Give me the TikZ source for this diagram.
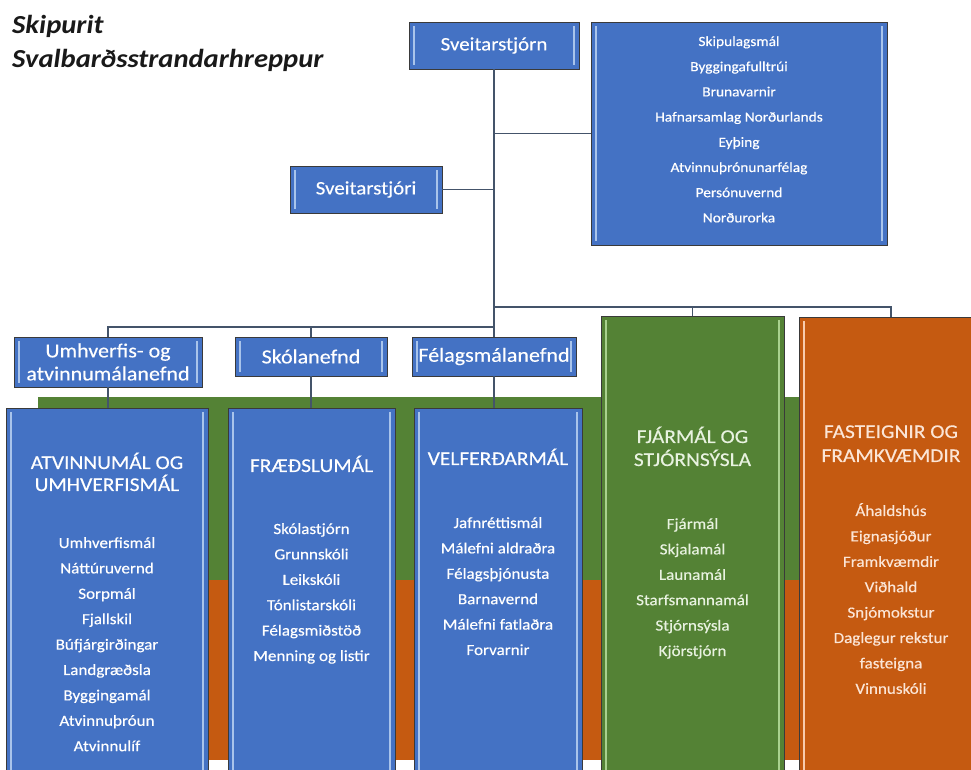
\documentclass[tikz,border=0pt]{standalone}
\usepackage{fontspec}
\setmainfont{Carlito}[FakeStretch=1.1]
\newfontfamily\boxfont{Carlito}[FakeStretch=1.1, FakeBold=0.35]
\usetikzlibrary{calc}
\definecolor{bfill}{HTML}{4472C4}
\definecolor{gfill}{HTML}{548235}
\definecolor{ofill}{HTML}{C55A11}
\definecolor{edgec}{HTML}{3A3A3A}
\definecolor{linec}{HTML}{44546A}
\definecolor{bhl}{HTML}{A9C4EB}
\definecolor{ghl}{HTML}{A9D18E}
\definecolor{ohl}{HTML}{F8CBAD}
\definecolor{gtext}{HTML}{E8F2E0}
\definecolor{otext}{HTML}{FBE5D6}
\tikzset{
  box/.style={draw=edgec, line width=0.9pt, inner sep=0pt, outer sep=0pt, anchor=north west},
  bbox/.style={box, fill=bfill},
  gbox/.style={box, fill=gfill},
  obox/.style={box, fill=ofill},
  conn/.style={draw=linec, line width=1.1pt},
  toptxt/.style={text=white, font=\boxfont\fontsize{19}{23}\selectfont},
  comtxt/.style={text=white, font=\boxfont\fontsize{20}{23}\selectfont, align=center},
  listtxt/.style={text=white, font=\boxfont\fontsize{14}{16}\selectfont, inner sep=0pt, text height=1.6ex, text depth=0.35ex},
  headtxt/.style={font=\boxfont\fontsize{19.5}{22}\selectfont, inner sep=0pt, text height=1.6ex, text depth=0.35ex},
  itmtxt/.style={font=\boxfont\fontsize{15.5}{18}\selectfont, inner sep=0pt, text height=1.6ex, text depth=0.35ex},
  titletxt/.style={font=\fontsize{26}{30}\selectfont\bfseries\itshape, text=black!90, inner sep=0pt, anchor=base west},
}
\newcommand\hilite[2]{%
  \draw[#2, line width=1.6pt] ($(#1.north west)+(5,4)$) -- ($(#1.south west)+(5,-4)$);
  \draw[#2, line width=1.6pt] ($(#1.north east)+(-5,4)$) -- ($(#1.south east)+(-5,-4)$);}
\newcommand\hiliteleft[2]{%
  \draw[#2, line width=1.6pt] ($(#1.north west)+(5,4)$) -- ($(#1.south west)+(5,-4)$);}
\begin{document}
\begin{tikzpicture}[x=1pt,y=-1pt]
\useasboundingbox (0,0) rectangle (971,769);
\fill[white] (0,0) rectangle (971,769);
\begin{scope}
\clip (0,0) rectangle (971,769);

% title
\node[titletxt] (t1) at (12,33) {Skipurit};
\node[titletxt] (t2) at (12,67) {Svalbarðsstrandarhreppur};

% background bands
\fill[gfill] (38,397) rectangle (800,580);
\fill[ofill] (38,580) rectangle (800,760);

% top boxes
\node[bbox, minimum width=170pt, minimum height=47pt, toptxt] (top) at (409,22) {Sveitarstjórn};
\node[bbox, minimum width=296pt, minimum height=223pt] (rl) at (591,22) {};
\node[bbox, minimum width=152pt, minimum height=47pt, toptxt] (sjori) at (290,166) {Sveitarstjóri};
\hilite{top}{bhl}
\hilite{rl}{bhl}
\hilite{sjori}{bhl}
\foreach \t [count=\i from 0] in {Skipulagsmál,Byggingafulltrúi,Brunavarnir,Hafnarsamlag Norðurlands,Eyþing,Atvinnuþrónunarfélag,Persónuvernd,Norðurorka}
  \node[listtxt] (rl\i) at ({739},{43+25.2*\i}) {\t};

% committees
\node[bbox, minimum width=188pt, minimum height=50pt, comtxt] (umh) at (14,337) {Umhverfis- og\\atvinnumálanefnd};
\node[bbox, minimum width=152pt, minimum height=39pt, comtxt] (skol) at (235,337) {Skólanefnd};
\node[bbox, minimum width=164pt, minimum height=39pt, comtxt] (fel) at (412,337) {Félagsmálanefnd};
\hilite{umh}{bhl}
\hilite{skol}{bhl}
\hilite{fel}{bhl}

% big boxes
\node[bbox, minimum width=202pt, minimum height=380pt] (b1) at (6,408) {};
\node[bbox, minimum width=167pt, minimum height=380pt] (b2) at (228,408) {};
\node[bbox, minimum width=168pt, minimum height=380pt] (b3) at (414,408) {};
\node[gbox, minimum width=183pt, minimum height=470pt] (fin) at (601,316) {};
\node[obox, minimum width=184pt, minimum height=470pt] (fast) at (799,317) {};
\hilite{b1}{bhl}
\hilite{b2}{bhl}
\hilite{b3}{bhl}
\hilite{fin}{ghl}
\hiliteleft{fast}{ohl}

% connectors
\coordinate (jr) at (494,307);
\coordinate (jl) at (494,327);
\coordinate (jo) at (891,307);
\draw[conn] (top.south) -- (fel.north);
\draw[conn] (rl.west) -- (rl.west -| top.south);
\draw[conn] (sjori.east) -- (sjori.east -| top.south);
\draw[conn] (jr) -| (fin.north);
\draw[conn] (jr) -- (jo) -- (jo |- fast.north);
\draw[conn] (jl) -| (umh.north);
\draw[conn] (jl) -| (skol.north);
\draw[conn] (umh.south) -- (umh.south |- b1.north);
\draw[conn] (skol.south) -- (skol.south |- b2.north);
\draw[conn] (fel.south) -- (fel.south |- b3.north);

% column texts
\node[headtxt, text=white] (h1a) at (107,466) {ATVINNUMÁL OG};
\node[headtxt, text=white] (h1b) at (107,488) {UMHVERFISMÁL};
\foreach \t [count=\i from 0] in {Umhverfismál,Náttúruvernd,Sorpmál,Fjallskil,Búfjárgirðingar,Landgræðsla,Byggingamál,Atvinnuþróun,Atvinnulíf}
  \node[itmtxt, text=white] (c1\i) at ({107},{545+25.4*\i}) {\t};

\node[headtxt, text=white] (h2) at (311.5,469) {FRÆÐSLUMÁL};
\foreach \t [count=\i from 0] in {Skólastjórn,Grunnskóli,Leikskóli,Tónlistarskóli,Félagsmiðstöð,Menning og listir}
  \node[itmtxt, text=white] (c2\i) at ({311.5},{531+25.4*\i}) {\t};

\node[headtxt, text=white] (h3) at (498,462) {VELFERÐARMÁL};
\foreach \t [count=\i from 0] in {Jafnréttismál,Málefni aldraðra,Félagsþjónusta,Barnavernd,Málefni fatlaðra,Forvarnir}
  \node[itmtxt, text=white] (c3\i) at ({498},{525+25.4*\i}) {\t};

\node[headtxt, text=gtext] (h4a) at (692.5,440) {FJÁRMÁL OG};
\node[headtxt, text=gtext] (h4b) at (692.5,463) {STJÓRNSÝSLA};
\foreach \t [count=\i from 0] in {Fjármál,Skjalamál,Launamál,Starfsmannamál,Stjórnsýsla,Kjörstjórn}
  \node[itmtxt, text=gtext] (c4\i) at ({692.5},{526+25.4*\i}) {\t};

\node[headtxt, text=otext] (h5a) at (891,435) {FASTEIGNIR OG};
\node[headtxt, text=otext] (h5b) at (891,459) {FRAMKVÆMDIR};
\foreach \t [count=\i from 0] in {Áhaldshús,Eignasjóður,Framkvæmdir,Viðhald,Snjómokstur,Daglegur rekstur,fasteigna,Vinnuskóli}
  \node[itmtxt, text=otext] (c5\i) at ({891},{513+25.4*\i}) {\t};
\end{scope}
\end{tikzpicture}
\end{document}
